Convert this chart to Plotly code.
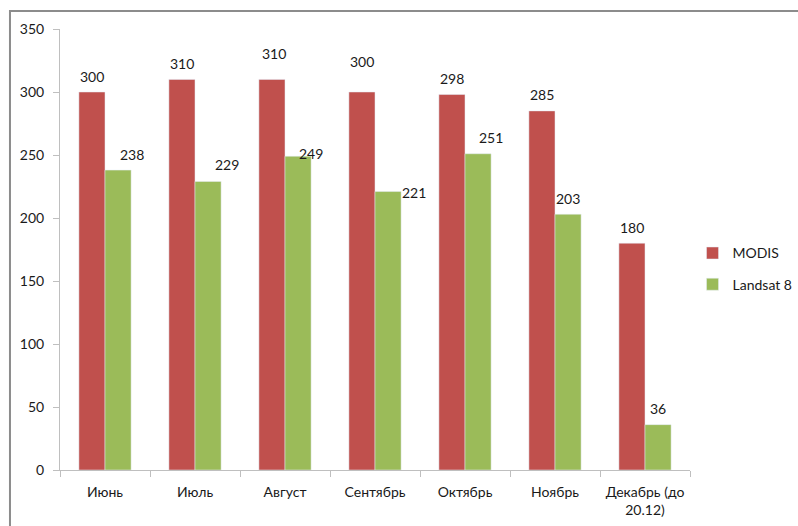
import plotly.graph_objects as go

# Monthly counts per sensor
months = ["Июнь", "Июль", "Август", "Сентябрь", "Октябрь", "Ноябрь", "Декабрь (до<br>20.12)"]
modis = [300, 310, 310, 300, 298, 285, 180]
landsat = [238, 229, 249, 221, 251, 203, 36]

# Extra nudges (px) for individual value labels: (dx, dy), dy positive = down
modis_nudge = [(0, 0), (0, 0), (2, -10), (0, -15), (0, 0), (0, 0), (0, 0)]
landsat_nudge = [(14, 0), (19, -1), (13, 13), (26, 17), (13, 0), (0, 0), (0, 0)]

RED = "#C0504D"
GREEN = "#9BBB59"
FONT = "Lato"
TXT = "#1a1a1a"

fig = go.Figure()
fig.add_trace(go.Bar(x=months, y=modis, name="MODIS", marker_color=RED,
                     legendgroup="a"))
fig.add_trace(go.Bar(x=months, y=landsat, name="Landsat 8", marker_color=GREEN,
                     legendgroup="b"))

half_bar = 13  # px offset of each bar centre from the category centre
annotations = []
for vals, nudges, side in ((modis, modis_nudge, -1), (landsat, landsat_nudge, 1)):
    for m, v, (dx, dy) in zip(months, vals, nudges):
        annotations.append(dict(
            x=m, y=v, xref="x", yref="y", text=str(v), showarrow=False,
            xanchor="center", yanchor="middle",
            xshift=side * half_bar + dx, yshift=16 - dy,
            font=dict(family=FONT, size=14, color=TXT),
        ))

fig.update_layout(
    width=798, height=526,
    margin=dict(l=60, r=108, t=29, b=56, autoexpand=False),
    paper_bgcolor="white", plot_bgcolor="white",
    barmode="group", bargap=0.42, bargroupgap=0,
    font=dict(family=FONT, size=14, color=TXT),
    showlegend=True,
    legend=dict(x=1.004, y=0.456, xanchor="left", yanchor="middle",
                font=dict(family=FONT, size=14, color=TXT),
                tracegroupgap=10, itemwidth=30,
                bgcolor="rgba(0,0,0,0)"),
    annotations=annotations,
    shapes=[dict(type="rect", xref="paper", yref="paper",
                 x0=-0.0794, x1=1.5, y0=-0.5, y1=1.0408,
                 line=dict(color="#8c8c8c", width=2), layer="below")],
)
fig.update_xaxes(
    showline=True, linecolor="#BFBFBF", linewidth=1,
    ticks="outside", tickson="boundaries", ticklen=6, tickcolor="#BFBFBF",
    showgrid=False, tickangle=0, automargin=False,
    tickfont=dict(family=FONT, size=14, color=TXT),
    ticklabelstandoff=9,
)
fig.update_yaxes(
    range=[0, 350], dtick=50, showline=True, linecolor="#BFBFBF", linewidth=1,
    ticks="outside", ticklen=6, tickcolor="#BFBFBF", showgrid=False,
    zeroline=False, automargin=False,
    tickfont=dict(family=FONT, size=14, color=TXT),
    ticklabelstandoff=6,
)

fig.write_html("out.html")
